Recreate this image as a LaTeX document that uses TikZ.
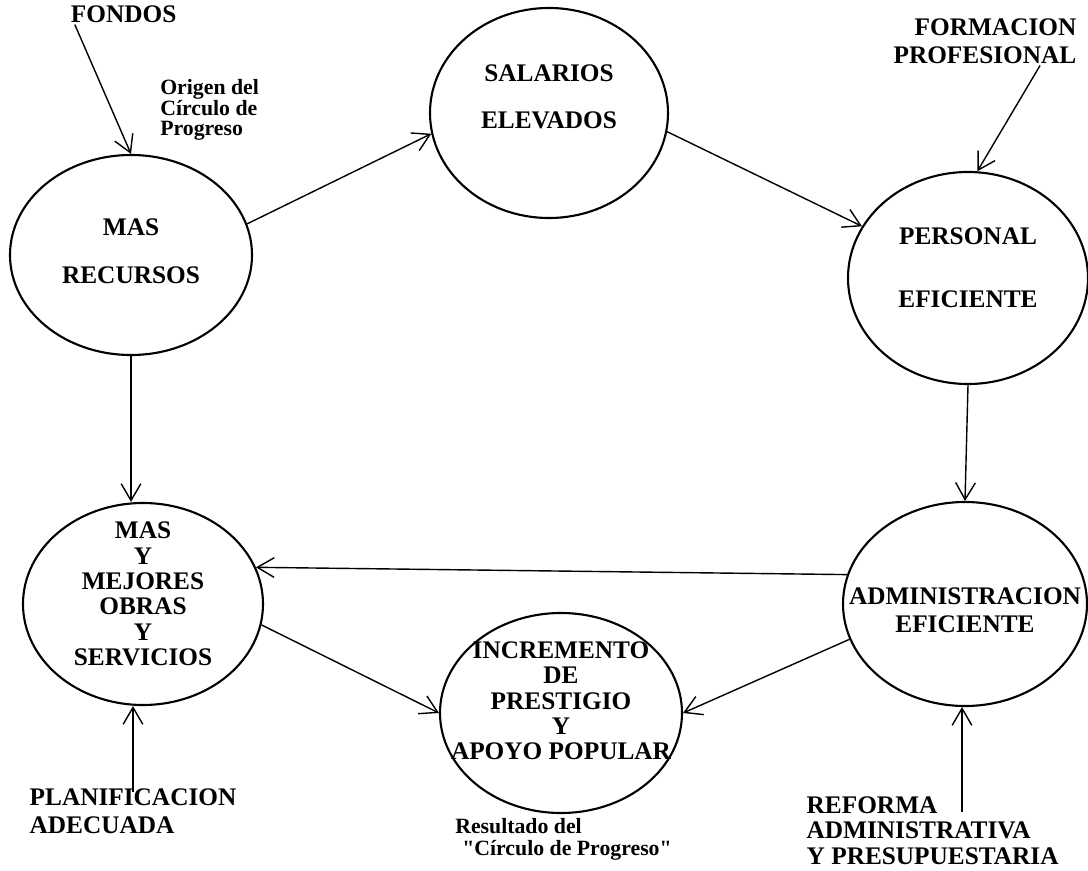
\documentclass[tikz,border=0pt]{standalone}
\usepackage{fontspec}
\setmainfont{Liberation Serif}
\usetikzlibrary{shapes.geometric,arrows.meta}

\begin{document}
\begin{tikzpicture}[
    oval/.style={ellipse, draw=black, line width=1.5pt, inner sep=0pt},
    lbl/.style={align=center, inner sep=0pt, font=\fontsize{18}{20}\selectfont\bfseries},
    inp/.style={inner sep=1pt, font=\fontsize{18}{20}\selectfont\bfseries},
    note/.style={align=left, inner sep=0pt, font=\fontsize{15.5}{14}\selectfont\bfseries},
    arr/.style={-{Straight Barb[length=12pt,width=14pt]}, line width=1pt}
]
    \useasboundingbox (0,0) rectangle (27.2,-21.775);

    % Circles
    \node[oval, minimum width=6.05cm, minimum height=5cm] (rec) at (3.275,-6.375) {};
    \node[oval, minimum width=5.95cm, minimum height=5.25cm] (sal) at (13.725,-2.825) {};
    \node[oval, minimum width=6cm, minimum height=5.3cm] (per) at (24.2,-6.95) {};
    \node[oval, minimum width=6cm, minimum height=5.05cm] (obr) at (3.575,-15.1) {};
    \node[oval, minimum width=6.05cm, minimum height=5cm] (inc) at (14.025,-17.825) {};
    \node[oval, minimum width=6.1cm, minimum height=5.1cm] (adm) at (24.125,-15.1) {};

    % Texts in the circles
    \node[lbl, yshift=0.1cm] (recT) at (rec) {MAS\\[14pt]RECURSOS};
    \node[lbl, yshift=0.4cm] (salT) at (sal) {SALARIOS\\[13pt]ELEVADOS};
    \node[lbl, yshift=0.25cm] (perT) at (per) {PERSONAL\\[25pt]EFICIENTE};
    \node[lbl, yshift=0.25cm] (obrT) at (obr) {MAS\\[-2pt]Y\\[-2pt]MEJORES\\[-2pt]OBRAS\\[-2pt]Y\\[-2pt]SERVICIOS};
    \node[lbl, yshift=0.3cm] (incT) at (inc) {INCREMENTO\\[-2pt]DE\\[-2pt]PRESTIGIO\\[-2pt]Y\\[-2pt]APOYO POPULAR};
    \node[lbl, yshift=-0.15cm] (admT) at (adm) {ADMINISTRACION\\EFICIENTE};

    % Inputs
    \node[inp] (fondos) at (3.09,-0.36) {FONDOS};
    \node[inp, align=right, anchor=north east] (form) at (26.95,-0.425) {FORMACION\\PROFESIONAL};
    \node[inp, align=left, anchor=north west] (plan) at (0.7,-19.675) {PLANIFICACION\\ADECUADA};
    \node[inp, align=left, anchor=north west] (refo) at (20.125,-19.875) {REFORMA\\[-2pt]ADMINISTRATIVA\\[-2pt]Y PRESUPUESTARIA};
    \coordinate (planA) at (3.325,-19.8);
    \coordinate (refoA) at (24.05,-20.3);

    % Notes
    \node[note, anchor=north west] (origen) at (4.0,-1.98) {Origen del\\Círculo de\\Progreso};
    \node[note, anchor=north west, font=\fontsize{15.5}{15.5}\selectfont\bfseries] (res) at (11.375,-20.45) {Resultado del\\\hspace*{5pt}\textquotedbl Círculo de Progreso\textquotedbl};

    % Arrows
    \draw[arr] ([xshift=4pt]fondos.south west) -- (rec.north);
    \draw[arr] (rec.15) -- (sal.190);
    \draw[arr] (sal.351) -- (per.154);
    \draw[arr] ([xshift=-27pt]form.south east) -- (per.85);
    \draw[arr] (per.south) -- (adm.north);
    \draw[arr] (rec.south) -- (rec.south |- obr.north);
    \draw[arr] (adm.166) -- (obr.18);
    \draw[arr] (obr.350) -- (inc.180);
    \draw[arr] (adm.197) -- (inc.0);
    \draw[arr] (planA) -- (planA |- obr.south);
    \draw[arr] (refoA) -- (refoA |- adm.south);
\end{tikzpicture}
\end{document}
